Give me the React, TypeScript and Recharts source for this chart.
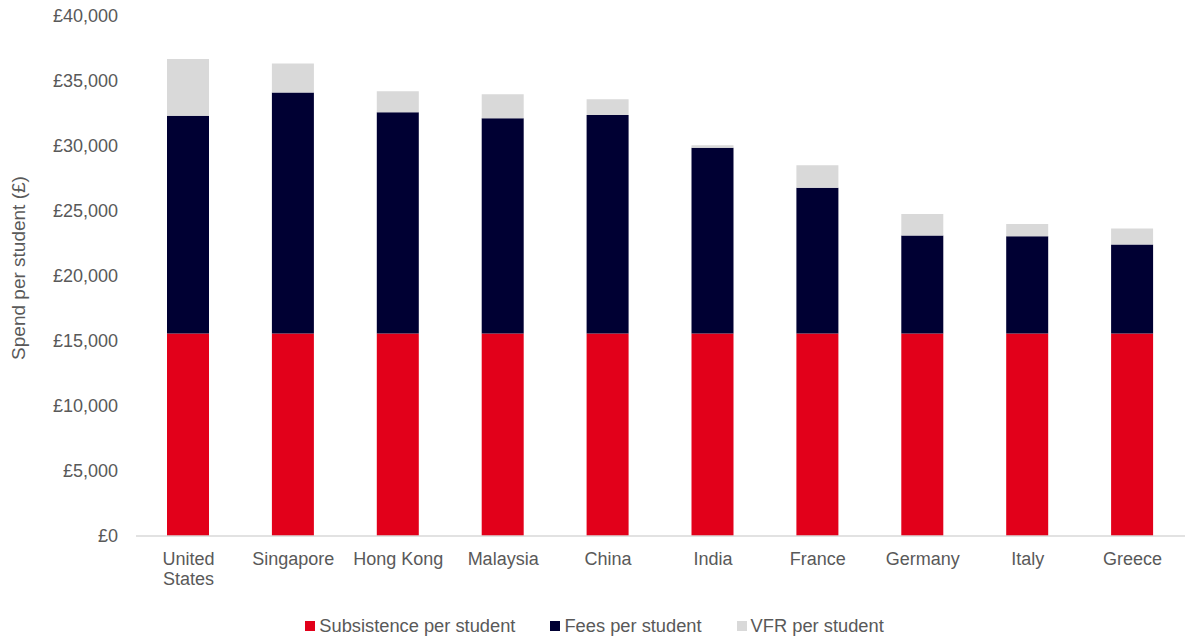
import React from "react";
import { BarChart, Bar, XAxis, YAxis, Legend, Label } from "recharts";

const categories = ["United States", "Singapore", "Hong Kong", "Malaysia", "China", "India", "France", "Germany", "Italy", "Greece"];
const subsistence = [15570, 15570, 15570, 15570, 15570, 15570, 15570, 15570, 15570, 15570];
const fees = [16750, 18550, 17030, 16570, 16820, 14290, 11210, 7540, 7490, 6850];
const vfr = [4380, 2230, 1620, 1850, 1210, 200, 1740, 1660, 940, 1230];
const yTicks = [0, 5000, 10000, 15000, 20000, 25000, 30000, 35000, 40000];

const seriesNames = ["Subsistence per student", "Fees per student", "VFR per student"];
const colors = ["#E2001A", "#000033", "#D9D9D9"];

const data = categories.map((c, i) => ({
  name: c,
  subsistence: subsistence[i],
  fees: fees[i],
  vfr: vfr[i],
}));

const FONT = "'Liberation Sans', Arial, sans-serif";
const TEXT = "#595959";

const fmt = (v: number) => "£" + v.toLocaleString("en-GB");

const XTick = (props: any) => {
  const { x, y, payload } = props;
  const label: string = String(payload.value);
  const lines = label.length > 10 ? label.split(" ") : [label];
  return (
    <text x={x} y={y} textAnchor="middle" fill={TEXT} fontSize={18} fontFamily={FONT}>
      {lines.map((l, i) => (
        <tspan key={i} x={x} y={y + 27 + i * 20}>
          {l}
        </tspan>
      ))}
    </text>
  );
};

const LegendContent = () => (
  <div
    style={{
      display: "flex",
      justifyContent: "center",
      alignItems: "center",
      height: 24,
      fontFamily: FONT,
      fontSize: 18.3,
      color: TEXT,
      paddingLeft: 4,
    }}
  >
    {seriesNames.map((n, i) => (
      <div key={n} style={{ display: "flex", alignItems: "center", marginRight: i < 2 ? 35 : 0 }}>
        <span style={{ width: 10, height: 10, background: colors[i], display: "inline-block", marginRight: 4 }} />
        <span>{n}</span>
      </div>
    ))}
  </div>
);

export default function App() {
  return (
    <div style={{ position: "absolute", left: 0, top: 0, width: 1185, height: 636, background: "#fff" }}>
      <BarChart
        width={1185}
        height={636}
        data={data}
        margin={{ top: 16, right: 0, left: 0, bottom: 0 }}
        barSize={42}
      >
        <XAxis
          dataKey="name"
          height={76}
          tickLine={false}
          tickSize={0}
          axisLine={{ stroke: "#D9D9D9", strokeWidth: 1.5 }}
          tick={<XTick />}
          interval={0}
        />
        <YAxis
          width={136}
          domain={[0, 40000]}
          ticks={yTicks}
          tickFormatter={fmt}
          axisLine={false}
          tickLine={false}
          tickSize={0}
          tickMargin={18}
          tick={{ fill: TEXT, fontSize: 18, fontFamily: FONT }}
        >
          <Label
            value="Spend per student (£)"
            angle={-90}
            position="insideLeft"
            dx={13}
            dy={-8}
            style={{ textAnchor: "middle", fill: TEXT, fontSize: 19, fontFamily: FONT }}
          />
        </YAxis>
        <Legend
          verticalAlign="bottom"
          content={<LegendContent />}
          wrapperStyle={{ left: 0, width: 1185, bottom: -2 }}
        />
        <Bar dataKey="subsistence" name={seriesNames[0]} stackId="a" fill={colors[0]} isAnimationActive={false} />
        <Bar dataKey="fees" name={seriesNames[1]} stackId="a" fill={colors[1]} isAnimationActive={false} />
        <Bar dataKey="vfr" name={seriesNames[2]} stackId="a" fill={colors[2]} isAnimationActive={false} />
      </BarChart>
    </div>
  );
}
